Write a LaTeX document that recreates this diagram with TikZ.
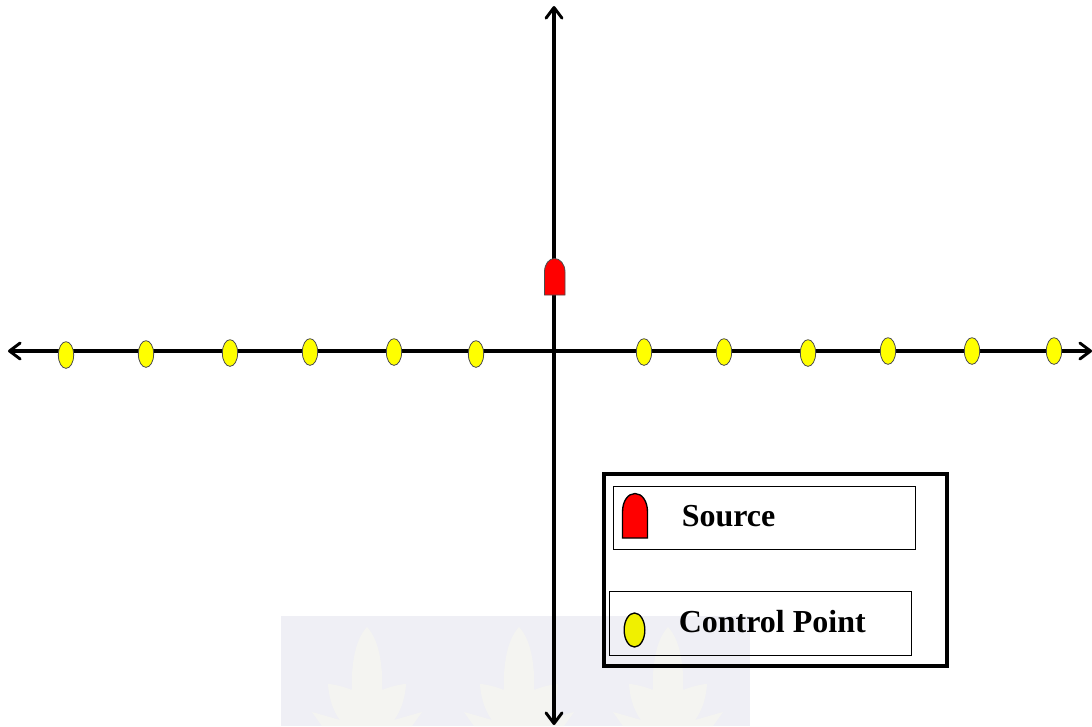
\documentclass[tikz,border=0pt]{standalone}
\usepackage{fontspec}
\setmainfont{Liberation Serif}
\usetikzlibrary{shapes.geometric, arrows.meta, positioning}
\definecolor{markyellow}{RGB}{255,255,0}
\definecolor{legendyellow}{RGB}{240,240,0}
\definecolor{markred}{RGB}{255,0,0}
\definecolor{wmback}{RGB}{239,239,245}
\definecolor{wmleaf}{RGB}{244,244,241}

\begin{document}
\begin{tikzpicture}[
        x=0.75pt, y=-0.75pt,
        axisline/.style={{Straight Barb[length=8pt, width=12pt, line width=2.2pt, round]}-{Straight Barb[length=8pt, width=12pt, line width=2.2pt, round]}, line width=2.7pt},
        ctrlnode/.style={ellipse, draw=black!70, fill=markyellow, line width=0.6pt, inner sep=0pt, minimum width=11.5pt, minimum height=20pt},
        keyctrl/.style={ellipse, draw=black, fill=legendyellow, line width=1pt, inner sep=0pt, minimum width=15.5pt, minimum height=25.5pt},
        keyrow/.style={rectangle, draw=black, line width=0.6pt, minimum width=226.5pt, minimum height=47.5pt, inner sep=0pt},
        keybox/.style={rectangle, draw=black, line width=3pt, minimum width=257pt, minimum height=144pt, inner sep=0pt},
        keytext/.style={font=\bfseries\fontsize{24}{26}\selectfont, inner sep=0pt, anchor=west}
    ]
    \useasboundingbox (0,0) rectangle (1092,726);

    % Faint mark behind the picture
    \fill[wmback] (281,616) rectangle (750,726);
    \foreach \leafx in {367,519,668} {
        \fill[wmleaf, shift={(\leafx,0)}] (0,627) .. controls (-12,640) and (-16,665) .. (-15,690)
            .. controls (-25,686) and (-35,684) .. (-39,684) .. controls (-38,700) and (-33,712) .. (-27,720)
            -- (-55,712) -- (-45,726) -- (45,726) -- (55,712) -- (27,720)
            .. controls (33,712) and (38,700) .. (39,684) .. controls (35,684) and (25,686) .. (15,690)
            .. controls (16,665) and (12,640) .. (0,627) -- cycle;
    }

    % Axes
    \coordinate (west) at (8,351);
    \coordinate (east) at (1092,351);
    \coordinate (north) at (554,6);
    \coordinate (south) at (554,725);
    \draw[axisline] (west) -- (east);
    \draw[axisline] (north) -- (south);

    % Source on the vertical axis
    \draw[draw=black!70, fill=markred, line width=0.6pt] (544.5,295) -- (544.5,272) .. controls (544.5,264) and (549,258.5) .. (554.5,258.5)
        .. controls (560,258.5) and (565,264) .. (565,272) -- (565,295) -- cycle;

    % Control points
    \foreach \px/\py [count=\i] in {66/355,146/354,230/353,310/352,394/352,476/354,644/352,724/352,808/353,888/351,972/351,1054/351} {
        \node[ctrlnode] (cp\i) at (\px,\py) {};
    }

    % Legend
    \node[keybox] (legend) at (775.5,570) {};
    \node[keyrow] (rowsource) at (764.75,517.75) {};
    \node[keyrow] (rowctrl) at (760.75,623.5) {};
    \draw[draw=black, fill=markred, line width=1pt] (622.5,538) -- (622.5,512) .. controls (622.5,501) and (628,493.5) .. (635,493.5)
        .. controls (642,493.5) and (647.5,501) .. (647.5,512) -- (647.5,538) -- cycle;
    \node[keyctrl] (keypoint) at (634.5,630) {};
    \node[keytext] (labelsource) at (681.5,516) {Source};
    \node[keytext] (labelctrl) at (678.5,622) {Control Point};

\end{tikzpicture}
\end{document}
